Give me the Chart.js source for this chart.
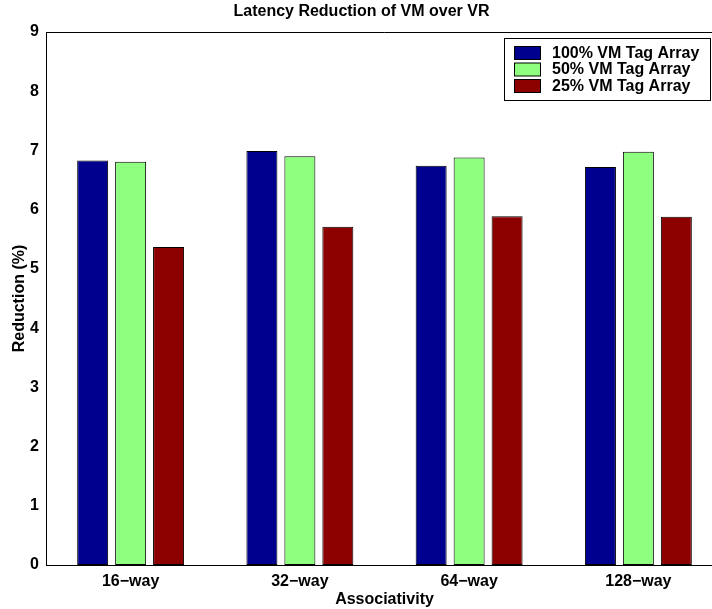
<!DOCTYPE html>
<html>
<head>
<meta charset="utf-8">
<script src="https://cdn.jsdelivr.net/npm/chart.js@4/dist/chart.umd.min.js"></script>
<style>
html,body{margin:0;padding:0;background:#fff;overflow:hidden;width:712px;height:609px;}
#wrap{width:712px;height:609px;overflow:hidden;position:relative;}
canvas{display:block;}
</style>
</head>
<body>
<div id="wrap"><canvas id="c" width="723" height="609"></canvas></div>
<script>
const categories = ['16\u2212way', '32\u2212way', '64\u2212way', '128\u2212way'];
const seriesNames = ['100% VM Tag Array', '50% VM Tag Array', '25% VM Tag Array'];
const vm100 = [6.83, 6.99, 6.74, 6.72];
const vm50 = [6.81, 6.90, 6.88, 6.98];
const vm25 = [5.37, 5.71, 5.89, 5.88];
const seriesColors = ['rgb(0,0,143)', 'rgb(143,255,128)', 'rgb(140,0,0)'];
const yTicks = [0, 1, 2, 3, 4, 5, 6, 7, 8, 9];

const FONT = 'Liberation Sans, Arial, Helvetica, sans-serif';

const frameAndLegend = {
  id: 'frameAndLegend',
  afterDraw(chart) {
    const ctx = chart.ctx;
    const a = chart.chartArea;
    ctx.save();
    ctx.strokeStyle = '#000';
    ctx.lineWidth = 1;
    ctx.beginPath();
    ctx.moveTo(a.left + 0.5, a.bottom);
    ctx.lineTo(a.left + 0.5, a.top + 0.5);
    ctx.lineTo(a.right, a.top + 0.5);
    ctx.stroke();
    // legend inside plot, top-right
    const bx = 504.5, by = 38.5, bw = 206, bh = 62;
    ctx.fillStyle = '#fff';
    ctx.fillRect(bx, by, bw, bh);
    ctx.strokeRect(bx, by, bw, bh);
    ctx.font = 'bold 16px ' + FONT;
    ctx.textBaseline = 'middle';
    ctx.textAlign = 'left';
    chart.data.datasets.forEach((ds, i) => {
      const cy = 53 + i * 16.5;
      ctx.fillStyle = ds.backgroundColor;
      ctx.fillRect(514.5, cy - 6.5, 26, 13);
      ctx.strokeStyle = '#000';
      ctx.strokeRect(514.5, cy - 6.5, 26, 13);
      ctx.fillStyle = '#000';
      ctx.fillText(ds.label, 552, cy + 0.5);
    });
    ctx.restore();
  }
};

new Chart(document.getElementById('c'), {
  type: 'bar',
  data: {
    labels: categories,
    datasets: [
      { label: seriesNames[0], data: vm100, backgroundColor: seriesColors[0] },
      { label: seriesNames[1], data: vm50, backgroundColor: seriesColors[1] },
      { label: seriesNames[2], data: vm25, backgroundColor: seriesColors[2] }
    ].map(d => Object.assign(d, {
      borderColor: '#000', borderWidth: 1, borderSkipped: false,
      categoryPercentage: 0.673, barPercentage: 0.816
    }))
  },
  options: {
    responsive: false,
    animation: false,
    devicePixelRatio: 1,
    layout: { padding: { left: 0, right: 0, top: 0, bottom: 0 } },
    plugins: {
      legend: { display: false },
      tooltip: { enabled: false },
      title: {
        display: true,
        text: 'Latency Reduction of VM over VR',
        color: '#000',
        font: { family: FONT, size: 16, weight: 'bold' },
        padding: { top: 2, bottom: 10.8 }
      }
    },
    scales: {
      x: {
        grid: { display: false, drawTicks: false },
        border: { display: true, color: '#000', width: 1 },
        ticks: { color: '#000', font: { family: FONT, size: 16, weight: 'bold' }, padding: 7, maxRotation: 0 },
        title: { display: true, text: 'Associativity', color: '#000', font: { family: FONT, size: 16, weight: 'bold' }, padding: { top: 0, bottom: 0 } },
        afterFit(s) { s.height = 44; }
      },
      y: {
        min: 0, max: 9,
        afterBuildTicks(s) { s.ticks = yTicks.map(v => ({ value: v })); },
        grid: { display: false, drawTicks: false },
        border: { display: true, color: '#000', width: 1 },
        ticks: { color: '#000', font: { family: FONT, size: 16, weight: 'bold' }, padding: 7 },
        title: { display: true, text: 'Reduction (%)', color: '#000', font: { family: FONT, size: 16, weight: 'bold' }, padding: { top: 10, bottom: 0 } },
        afterFit(s) { s.width = 46; }
      }
    }
  },
  plugins: [frameAndLegend]
});
</script>
</body>
</html>
